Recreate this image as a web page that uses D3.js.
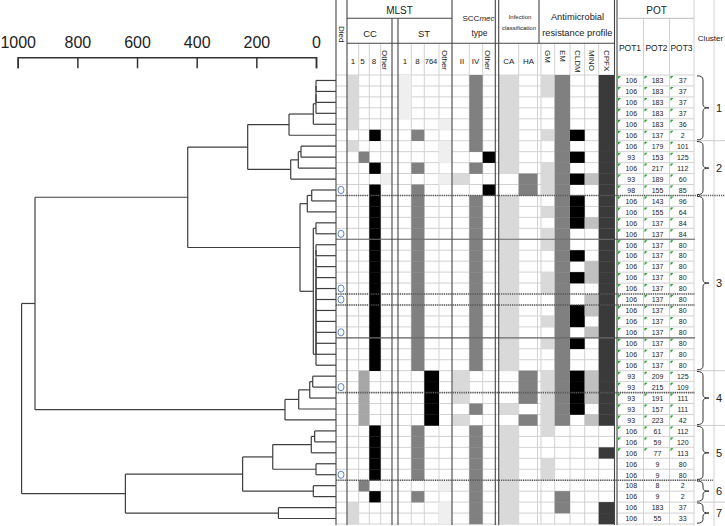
<!DOCTYPE html>
<html><head><meta charset="utf-8">
<script src="https://cdn.jsdelivr.net/npm/d3@7"></script>
<style>
body{margin:0;background:#fff}
svg{display:block}
text{font-family:"Liberation Sans",Arial,sans-serif;fill:#222}
</style>
</head><body>
<svg id="c" width="725" height="526"></svg>
<script>
// ---------------- DATA ----------------
const heightTicks = [1000, 800, 600, 400, 200, 0];
const pot1 = [106,106,106,106,106,106,106,93,106,93,98,106,106,106,106,106,106,106,106,106,106,106,106,106,106,106,106,93,93,93,93,93,106,106,106,106,106,108,106,106,106];
const pot2 = [183,183,183,183,183,137,179,153,217,189,155,143,155,137,137,137,137,137,137,137,137,137,137,137,137,137,137,209,215,191,157,223,61,59,77,9,9,8,9,183,55];
const pot3 = [37,37,37,37,36,2,101,125,112,60,85,96,64,84,84,80,80,80,80,80,80,80,80,80,80,80,80,125,109,111,111,42,112,120,113,80,80,2,2,37,33];
const potFlag = [1,1,1,1,1,1,1,1,1,1,1,1,1,1,1,1,1,1,1,1,1,1,1,1,1,1,1,1,1,1,1,1,1,1,1,0,0,0,0,0,0];
const died = [0,0,0,0,0,0,0,0,0,0,1,0,0,0,1,0,0,0,0,1,1,0,0,1,0,0,0,0,1,0,0,0,0,0,0,0,1,0,0,0,0];
const ccType = ['1','1','1','1','1','8','1','5','8','Other','8','8','8','8','8','8','8','8','8','8','8','8','8','8','8','8','8','5','5','5','5','5','8','8','8','8','8','5','8','1','1'];
const stType = ['1','1','1','1','Other','8','Other','Other','8','Other','8','8','8','8','8','8','8','8','8','8','8','8','8','8','8','8','8','764','764','764','764','764','8','8','8','8','8','Other','8','Other','Other'];
const sccType = ['IV','IV','IV','IV','IV','IV','IV','Other','IV','II','Other','IV','IV','IV','IV','IV','IV','IV','IV','IV','IV','IV','IV','IV','IV','IV','IV','II','II','II','IV','II','IV','IV','IV','IV','IV','IV','IV','IV','IV'];
const infection = ['CA','CA','CA','CA','CA','CA','CA','CA','CA','HA','HA','CA','CA','CA','CA','CA','CA','CA','CA','CA','CA','CA','CA','CA','CA','CA','CA','HA','HA','HA','CA','HA','CA','CA','CA','CA','CA','CA','CA','CA','CA'];
const resGM   = [1,1,0,0,0,1,0,0,1,1,1,0,1,0,1,1,0,0,1,1,0,0,1,0,1,0,0,1,1,1,1,1,1,0,0,1,1,0,0,0,0];
const resEM   = [1,1,1,1,1,1,1,1,1,1,1,1,1,1,1,1,1,1,1,1,1,1,1,1,1,1,1,1,1,1,1,1,0,0,0,0,0,0,1,1,0];
const resCLDM = [0,0,0,0,0,1,0,1,0,1,0,1,1,1,0,0,1,0,1,0,0,1,1,0,1,0,0,1,1,1,1,0,0,0,0,0,0,0,0,0,0];
const resMINO = [0,0,0,0,0,0,0,0,0,1,0,0,0,1,0,0,0,1,1,0,1,1,0,1,0,0,0,1,1,1,0,1,0,0,0,0,0,0,0,0,0];
const resCPFX = [1,1,1,1,1,1,1,1,1,1,1,1,1,1,1,1,1,1,1,1,1,1,1,1,1,1,1,1,1,1,1,1,0,0,1,0,0,0,0,1,1];
// separators under patients who died: 'd' dotted, 's' solid
const sepRows = [[11,'d'],[15,'s'],[20,'d'],[21,'d'],[24,'s'],[29,'d'],[37,'d']];
const clusters = [[1,6,'1'],[7,11,'2'],[12,27,'3'],[28,32,'4'],[33,37,'5'],[38,39,'6'],[40,41,'7']];
// dendrogram merges: negative = leaf (row), positive = earlier merge; third = height
const merges = [
 [-1,-2,0],[1,-3,0],[2,-4,0],[3,-5,9],[4,-6,90.5],
 [-7,-8,50.3],[6,-9,59.3],[7,-10,84.8],[5,8,229],
 [-11,-12,14.4],[10,-13,29.2],[-14,-15,0],
 [-16,-17,0],[13,-18,0],[14,-19,0],[15,-20,0],[16,-21,0],[17,-22,0],[18,-23,0],[19,-24,0],[20,-25,0],[21,-26,0],[22,-27,0],
 [12,23,9],[11,24,53.6],[9,25,430],
 [-28,-29,11],[27,-30,21],[28,-31,58],[29,-32,104],[26,30,942],
 [-33,-34,4.4],[32,-35,15.8],[-36,-37,0],[33,34,145],
 [-38,-39,9],[35,36,246],[-40,-41,126],[37,38,639],[31,39,987]
];

// ---------------- LAYOUT ----------------
const svg = d3.select('#c');
const N = pot1.length;
const y = d3.scaleBand().domain(d3.range(N)).range([75, 524]);
const bw = y.bandwidth();
const yc = i => y(i) + bw / 2;
const xs = d3.scaleLinear().domain([1000, 0]).range([17.7, 316]);

const LIGHT = '#d9d9d9', VLIGHT = '#efefef', MID = '#808080', MIDL = '#a6a6a6', BLACK = '#000', DARK = '#3a3a3a', MINOC = '#c0c0c0';

// axis
const ax = svg.append('g').attr('transform', 'translate(0,57.3)')
  .call(d3.axisTop(xs).tickValues(heightTicks).tickSize(-11).tickPadding(9.5).tickFormat(d3.format('d')));
ax.select('.domain').attr('stroke', '#333').attr('stroke-width', 1.5);
ax.selectAll('.tick line').attr('stroke', '#333').attr('stroke-width', 1.5);
ax.selectAll('.tick text').attr('font-size', 16).attr('fill', '#222').attr('font-family', '"Liberation Sans",Arial,sans-serif');

// dendrogram
const dg = svg.append('g').attr('stroke', '#3e3e3e').attr('stroke-width', 1.2).attr('fill', 'none');
const nodes = [];
const pos = i => i < 0 ? { x: 336, y: yc(-i - 1) } : nodes[i - 1];
merges.forEach(([a, b, h]) => {
  const A = pos(a), B = pos(b), X = xs(h);
  dg.append('line').attr('x1', X).attr('x2', X).attr('y1', A.y).attr('y2', B.y);
  dg.append('line').attr('x1', X).attr('x2', A.x).attr('y1', A.y).attr('y2', A.y);
  dg.append('line').attr('x1', X).attr('x2', B.x).attr('y1', B.y).attr('y2', B.y);
  nodes.push({ x: X, y: (A.y + B.y) / 2 });
});

// grid lines (light)
const grid = svg.append('g').attr('stroke', '#d2d2d2').attr('stroke-width', 1);
d3.range(N + 1).forEach(i => {
  const yy = i < N ? y(i) : y(N - 1) + bw;
  grid.append('line').attr('x1', 336).attr('x2', 614).attr('y1', yy).attr('y2', yy);
  grid.append('line').attr('x1', 617).attr('x2', 694).attr('y1', yy).attr('y2', yy);
});

// columns
const groups = [
  { data: ccType, cols: [['1',347.5,358.7],['5',358.7,369.3],['8',369.3,380.7],['Other',380.7,392]],
    color: (v, r) => v === '1' ? LIGHT : v === '5' ? (stType[r] === '764' ? MIDL : MID) : v === '8' ? BLACK : VLIGHT },
  { data: stType, cols: [['1',398.5,411.3],['8',411.3,424.3],['764',424.3,439],['Other',439,452]],
    color: v => v === '1' ? VLIGHT : v === '8' ? MID : v === '764' ? BLACK : VLIGHT },
  { data: sccType, cols: [['II',452.5,469.3],['IV',469.3,482.7],['Other',482.7,495.3]],
    color: v => v === 'II' ? LIGHT : v === 'IV' ? MID : BLACK },
  { data: infection, cols: [['CA',498.7,518.7],['HA',518.7,537.5]],
    color: v => v === 'CA' ? LIGHT : MID }
];
const amr = [['GM',resGM,541,554.7,LIGHT],['EM',resEM,554.7,570,MID],['CLDM',resCLDM,570,584.7,BLACK],['MINO',resMINO,584.7,598.7,MINOC],['CPFX',resCPFX,598.7,614,DARK]];

// light vertical separators inside groups
const vsep = [358.7,369.3,380.7,411.3,424.3,439,469.3,482.7,518.7,554.7,570,584.7,598.7];
vsep.forEach(x => grid.append('line').attr('x1', x).attr('x2', x).attr('y1', 43.3).attr('y2', 524.5));
[537.5, 541].forEach(x => grid.append('line').attr('x1', x).attr('x2', x).attr('y1', 43.3).attr('y2', 524.5));
[643.5, 669.5].forEach(x => grid.append('line').attr('x1', x).attr('x2', x).attr('y1', 18.3).attr('y2', 524.5));
[694, 714].forEach(x => grid.append('line').attr('x1', x).attr('x2', x).attr('y1', 0).attr('y2', 526));

const cells = svg.append('g');
groups.forEach(g => {
  g.cols.forEach(([v, x0, x1]) => {
    cells.selectAll(null).data(d3.range(N).filter(r => g.data[r] === v)).join('rect')
      .attr('x', x0).attr('width', x1 - x0).attr('y', r => y(r)).attr('height', bw + 0.3)
      .attr('fill', r => g.color(v, r));
  });
});
amr.forEach(([k, arr, x0, x1, c]) => {
  cells.selectAll(null).data(d3.range(N).filter(r => arr[r])).join('rect')
    .attr('x', x0).attr('width', x1 - x0).attr('y', r => y(r)).attr('height', bw + 0.3).attr('fill', c);
});

// died markers
svg.append('g').selectAll('ellipse').data(d3.range(N).filter(r => died[r])).join('ellipse')
  .attr('cx', 341).attr('cy', r => yc(r)).attr('rx', 3).attr('ry', 3.6)
  .attr('fill', 'none').attr('stroke', '#5a86c5').attr('stroke-width', 1);

// separator lines
const isBoundary = r => clusters.some(c => c[1] === r);
sepRows.forEach(([r, t]) => {
  const yy = y(r - 1) + bw;
  const x2 = r === 11 ? 725 : (isBoundary(r) ? 713 : 695);
  svg.append('line').attr('x1', 336).attr('x2', x2).attr('y1', yy).attr('y2', yy)
    .attr('stroke', t === 'd' ? '#555' : '#6a6a6a').attr('stroke-width', t === 'd' ? 1.6 : 1.2)
    .attr('stroke-dasharray', t === 'd' ? '1.2,1' : null);
});

// strong vertical lines
const strong = svg.append('g').attr('stroke', '#444').attr('stroke-width', 1.1);
[[336,0],[347,0],[392,18.3],[398,18.3],[452,0],[495.3,0],[498.7,0],[614.5,0],[617,0]].forEach(([x, y0]) =>
  strong.append('line').attr('x1', x).attr('x2', x).attr('y1', y0).attr('y2', 525));
strong.append('line').attr('x1', 539).attr('x2', 539).attr('y1', 0).attr('y2', 43.3);
strong.append('line').attr('x1', 347).attr('x2', 452).attr('y1', 18.3).attr('y2', 18.3);
strong.append('line').attr('x1', 347).attr('x2', 614.5).attr('y1', 43.3).attr('y2', 43.3);
svg.append('line').attr('x1', 617).attr('x2', 694).attr('y1', 18.3).attr('y2', 18.3).attr('stroke', '#bbb');

// headers
const T = (x, yy, s, fs, opt = {}) => {
  const t = svg.append('text').attr('x', x).attr('y', yy).attr('font-size', fs)
    .attr('text-anchor', opt.anchor || 'middle').attr('dominant-baseline', 'central').text(s);
  if (opt.rot) t.attr('transform', `rotate(90,${x},${yy})`);
  if (opt.len) t.attr('textLength', opt.len).attr('lengthAdjust', 'spacingAndGlyphs');
  return t;
};
T(399.5, 10, 'MLST', 10);
T(370, 33, 'CC', 9.5);
T(424, 33, 'ST', 9.5);
const scc = svg.append('text').attr('x', 478.5).attr('y', 18).attr('font-size', 8).attr('text-anchor', 'middle').attr('dominant-baseline', 'central');
scc.append('tspan').text('SCC');
scc.append('tspan').attr('font-style', 'italic').text('mec');
T(479.5, 33, 'type', 8.5);
T(520, 17, 'Infection', 6);
T(519, 28, 'classification', 6);
T(577.5, 17, 'Antimicrobial', 9.3);
T(577.3, 32.5, 'resistance profile', 9.3);
T(341.5, 26, 'Died', 8, { rot: true, anchor: 'start' });
T(353, 61, '1', 8); T(362.5, 61, '5', 8); T(374, 61, '8', 8);
T(384.5, 50, 'Other', 8, { rot: true, anchor: 'start' });
T(405, 61, '1', 8); T(417.5, 61, '8', 8); T(431, 61, '764', 7.5);
T(444, 50, 'Other', 8, { rot: true, anchor: 'start' });
T(462, 61, 'II', 8); T(475.5, 61, 'IV', 8);
T(487.5, 50, 'Other', 8, { rot: true, anchor: 'start' });
T(508.7, 61, 'CA', 8); T(528.5, 61, 'HA', 8);
amr.forEach(([k, arr, x0, x1]) => T((x0 + x1) / 2, 50, k, 8, { rot: true, anchor: 'start' }));
T(656.5, 10, 'POT', 10);
T(630, 48, 'POT1', 8.5); T(656.5, 48, 'POT2', 8.5); T(681.5, 48, 'POT3', 8.5);
T(710.5, 38, 'Cluster', 8);

// POT values
const potCols = [[pot1, 617, 643.5], [pot2, 643.5, 669.5], [pot3, 669.5, 694]];
potCols.forEach(([arr, x0, x1]) => {
  svg.append('g').selectAll('text').data(arr).join('text')
    .attr('x', (x0 + x1) / 2 + 1).attr('y', (d, i) => yc(i) + 0.3).attr('font-size', 7)
    .attr('text-anchor', 'middle').attr('dominant-baseline', 'central').attr('fill', '#333').text(d => d);
  svg.append('g').selectAll('path').data(d3.range(N).filter(r => potFlag[r])).join('path')
    .attr('d', r => `M${x0 + 1},${y(r) + 1}h3l-3,3z`).attr('fill', '#22a02a');
});

// cluster braces
const br = svg.append('g');
clusters.forEach(([a, b, lab]) => {
  const y0 = y(a - 1) + 0.8, y1 = y(b - 1) + bw - 0.8, ym = (y0 + y1) / 2;
  const x0 = 697, xv = 703, xt = 709;
  br.append('path').attr('fill', 'none').attr('stroke', '#333').attr('stroke-width', 1)
    .attr('d', `M${x0},${y0}Q${xv},${y0} ${xv},${y0 + 4}L${xv},${ym - 3}Q${xv},${ym} ${xt},${ym}Q${xv},${ym} ${xv},${ym + 3}L${xv},${y1 - 4}Q${xv},${y1} ${x0},${y1}`);
  T(719, ym, lab, 11);
  if (b < N && !sepRows.some(s => s[0] === b)) {
    br.append('line').attr('x1', 694).attr('x2', 725).attr('y1', y(b - 1) + bw).attr('y2', y(b - 1) + bw)
      .attr('stroke', '#ccc');
  }
});
</script>
</body></html>
